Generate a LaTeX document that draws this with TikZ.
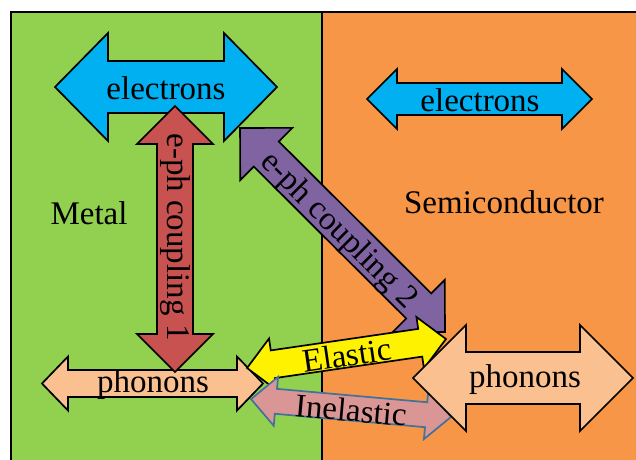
\documentclass[tikz,border=0pt]{standalone}
\usepackage{fontspec}
\setmainfont{Liberation Serif}
\definecolor{metalgreen}{RGB}{146,208,80}
\definecolor{semiorange}{RGB}{247,150,70}
\definecolor{elblue}{RGB}{0,176,240}
\definecolor{ephred}{RGB}{200,82,80}
\definecolor{ephpurple}{RGB}{128,100,162}
\definecolor{phonon}{RGB}{250,192,144}
\definecolor{inelpink}{RGB}{217,150,148}
\definecolor{inelline}{RGB}{65,113,156}
\newcommand\dbarrow[8]{%
  \begin{scope}[shift={(#1,#2)},rotate=#3]
    \draw[#8] (-#4,0) -- ({-#4+#5},#6) -- ({-#4+#5},#7) -- ({#4-#5},#7)
      -- ({#4-#5},#6) -- (#4,0) -- ({#4-#5},-#6) -- ({#4-#5},-#7)
      -- ({-#4+#5},-#7) -- ({-#4+#5},-#6) -- cycle;
  \end{scope}}
\tikzset{
  shapeline/.style={draw=black,line width=1.7pt,line join=miter},
  lbl/.style={inner sep=0pt,font=\fontsize{33}{38}\selectfont,text=black}
}
\begin{document}
\begin{tikzpicture}[x=1pt,y=-1pt]
\useasboundingbox (0,0) rectangle (636,459);
\clip (0,0) rectangle (636,459);
\fill[white] (0,0) rectangle (636,459);
% regions
\fill[metalgreen] (11,12) rectangle (322,470);
\fill[semiorange] (322,12) rectangle (660,470);
\draw[line width=2pt] (11,470) -- (11,12) -- (660,12);
\draw[line width=1.7pt] (322,12) -- (322,470);
% electrons
\dbarrow{166}{87}{0}{111}{53}{54}{26}{shapeline,fill=elblue}
\dbarrow{479.5}{99}{0}{112.5}{30}{30}{16}{shapeline,fill=elblue}
% phonons (metal)
\dbarrow{152.5}{383.5}{0}{110.5}{26}{27}{13.5}{shapeline,fill=phonon}
% e-ph coupling 1
\dbarrow{175}{239}{90}{133}{38}{38}{18}{shapeline,fill=ephred}
% e-ph coupling 2
\dbarrow{342.5}{230}{-44.9}{144.6}{37}{37}{17.7}{shapeline,fill=ephpurple}
% elastic
\dbarrow{346.5}{353.5}{8.3}{100.5}{26}{26}{14}{shapeline,fill=yellow}
% inelastic
\dbarrow{351}{408}{-5.1}{100.4}{25}{24.5}{12.5}{draw=inelline,line width=1.7pt,line join=miter,fill=inelpink}
% phonons (semiconductor)
\dbarrow{523}{378}{0}{110}{53}{53}{26}{shapeline,fill=phonon}
% labels
\node[lbl] (elm) at (166,88) {electrons};
\node[lbl] (els) at (480,100) {electrons};
\node[lbl] (metal) at (89,213) {Metal};
\node[lbl] (semi) at (504,202) {Semiconductor};
\node[lbl,rotate=-90] (c1) at (175,237) {e-ph coupling 1};
\node[lbl,rotate=-44.9] (c2) at (338,231) {e-ph coupling 2};
\node[lbl,rotate=8.3] (ela) at (347,355) {Elastic};
\node[lbl,rotate=-5.1] (inel) at (351,410) {Inelastic};
\node[lbl] (phm) at (153,385) {phonons};
\node[lbl] (phs) at (525,380) {phonons};
\end{tikzpicture}
\end{document}
